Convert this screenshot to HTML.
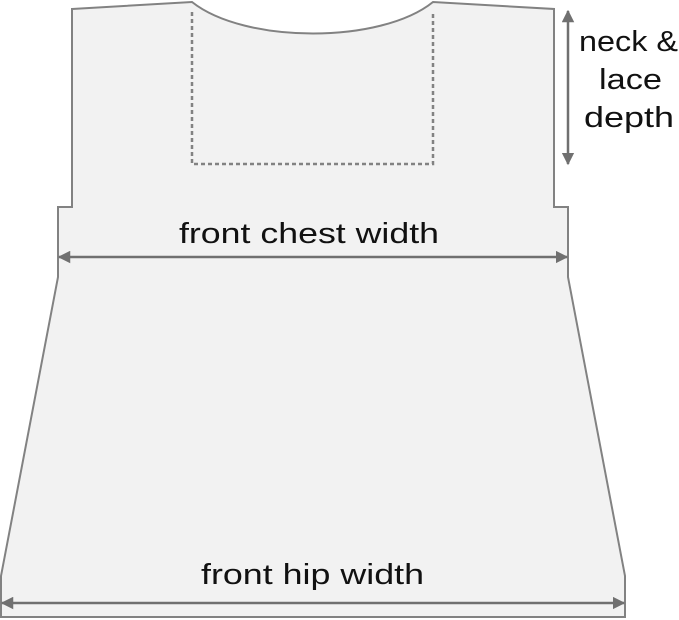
<!DOCTYPE html>
<html><head><meta charset="utf-8"><style>
html,body{margin:0;padding:0;background:#fff;}
svg{display:block;}
text{font-family:"Liberation Sans","DejaVu Sans",sans-serif;font-size:29px;fill:#111;}
</style></head><body>
<svg width="679" height="620" viewBox="0 0 679 620">
<defs>
<marker id="ah" viewBox="0 0 10 10" refX="9" refY="5" markerWidth="5" markerHeight="5" orient="auto-start-reverse">
<path d="M0,0 L10,5 L0,10 z" fill="#707070"/></marker>
</defs>
<path d="M72,9 L192,2 C245,44 381,44 433,2 L554,9 L554,207 L568,207 L568,277 L625,576 L625,617 L1,617 L1,576 L58,277 L58,207 L72,207 Z" fill="#f2f2f2" stroke="#828282" stroke-width="2"/>
<path d="M192,12 L192,164 L433,164 L433,12" fill="none" stroke="#828282" stroke-width="2.5" stroke-dasharray="4,3"/>
<line x1="568" y1="11" x2="568" y2="164" stroke="#707070" stroke-width="2.5" marker-start="url(#ah)" marker-end="url(#ah)"/>
<line x1="59" y1="257" x2="567" y2="257" stroke="#707070" stroke-width="2.5" marker-start="url(#ah)" marker-end="url(#ah)"/>
<line x1="2" y1="603" x2="624" y2="603" stroke="#707070" stroke-width="2.5" marker-start="url(#ah)" marker-end="url(#ah)"/>
<text x="179" y="243" textLength="260" lengthAdjust="spacingAndGlyphs">front chest width</text>
<text x="201" y="584" textLength="223" lengthAdjust="spacingAndGlyphs">front hip width</text>
<text x="579" y="51" textLength="99" lengthAdjust="spacingAndGlyphs">neck &amp;</text>
<text x="599" y="89" textLength="63" lengthAdjust="spacingAndGlyphs">lace</text>
<text x="584" y="127" textLength="90" lengthAdjust="spacingAndGlyphs">depth</text>
</svg>
</body></html>
